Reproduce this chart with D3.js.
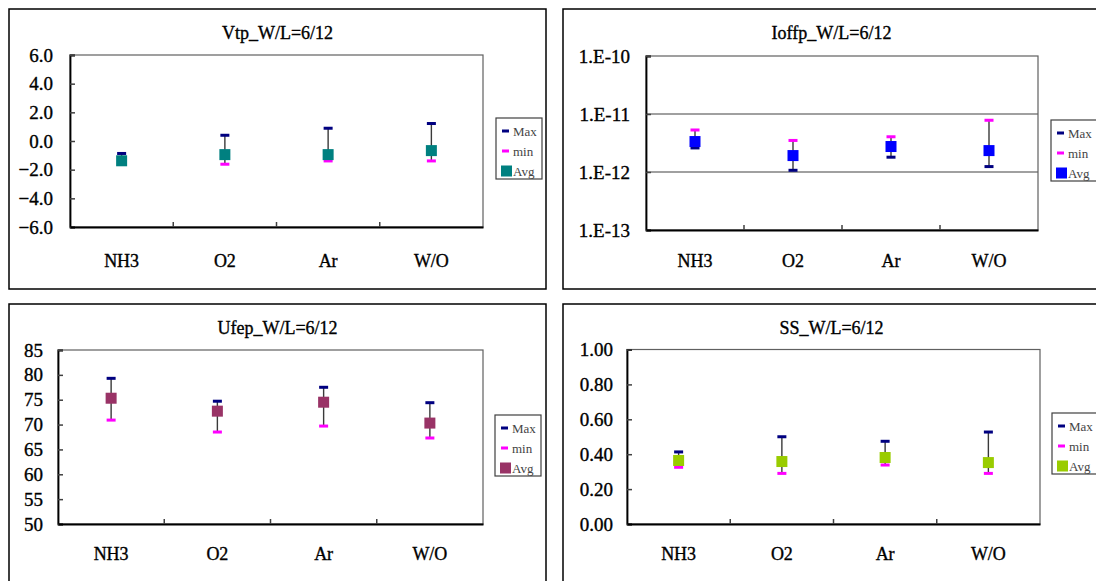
<!DOCTYPE html>
<html><head><meta charset="utf-8">
<script src="https://cdn.jsdelivr.net/npm/d3@7"></script>
<style>
html,body{margin:0;padding:0;background:#fff;}
svg{display:block;}
text{font-family:"Liberation Serif","Times New Roman",serif;fill:#000;}
.heavy{stroke:#000;stroke-width:0.35px;}
</style></head>
<body>
<svg id="chart" width="1096" height="581"></svg>
<script>
// ---- data ----
const categories = ["NH3", "O2", "Ar", "W/O"];
const legendLabels = ["Max", "min", "Avg"];

const vtpMax = [-0.87, 0.40, 0.89, 1.22];
const vtpMin = [-1.55, -1.62, -1.39, -1.39];
const vtpAvg = [-1.38, -0.95, -0.95, -0.67];
const vtpTicks = [-6, -4, -2, 0, 2, 4, 6];

const ioffMax = [2.6e-12, 1.07e-12, 1.80e-12, 1.24e-12];
const ioffMin = [5.3e-12, 3.5e-12, 4.05e-12, 7.8e-12];
const ioffAvg = [3.35e-12, 1.92e-12, 2.75e-12, 2.34e-12];
const ioffTicks = [1e-13, 1e-12, 1e-11, 1e-10];
const ioffTickLabels = ["1.E-13", "1.E-12", "1.E-11", "1.E-10"];

const ufepMax = [79.3, 74.7, 77.5, 74.4];
const ufepMin = [70.9, 68.5, 69.7, 67.3];
const ufepAvg = [75.3, 72.7, 74.5, 70.3];
const ufepTicks = [50, 55, 60, 65, 70, 75, 80, 85];

const ssMax = [0.413, 0.50, 0.474, 0.527];
const ssMin = [0.325, 0.29, 0.338, 0.29];
const ssAvg = [0.364, 0.358, 0.381, 0.352];
const ssTicks = [0, 0.2, 0.4, 0.6, 0.8, 1.0];

const titles = ["Vtp_W/L=6/12", "Ioffp_W/L=6/12", "Ufep_W/L=6/12", "SS_W/L=6/12"];

// ---- layout ----
const panels = [
  {title: titles[0], max: vtpMax, min: vtpMin, avg: vtpAvg, color: "#008080",
   scale: d3.scaleLinear().domain([-6, 6]), ticks: vtpTicks, fmt: d3.format(".1f"),
   box: [9, 9, 537, 280], plot: [70, 483, 55, 227], legend: [496, 118], tickX: 53, catY: 261, titleY: 33},
  {title: titles[1], max: ioffMax, min: ioffMin, avg: ioffAvg, color: "#0000ff",
   scale: d3.scaleLog().domain([1e-13, 1e-10]), ticks: ioffTicks, labels: ioffTickLabels, log: true,
   box: [563, 9, 540, 280], plot: [646, 1038, 56, 230], legend: [1051, 120], tickX: 630, catY: 261, titleY: 33},
  {title: titles[2], max: ufepMax, min: ufepMin, avg: ufepAvg, color: "#993366",
   scale: d3.scaleLinear().domain([50, 85]), ticks: ufepTicks, fmt: d3.format("d"),
   box: [9, 304, 537, 300], plot: [58, 483, 350, 524], legend: [495, 415], tickX: 43, catY: 554, titleY: 328},
  {title: titles[3], max: ssMax, min: ssMin, avg: ssAvg, color: "#99cc00",
   scale: d3.scaleLinear().domain([0, 1]), ticks: ssTicks, fmt: d3.format(".2f"),
   box: [563, 304, 540, 300], plot: [627, 1040, 349.5, 524], legend: [1052, 413], tickX: 613, catY: 554, titleY: 328}
];

const svg = d3.select("#chart");

panels.forEach(p => {
  const g = svg.append("g");
  const [bx, by, bw, bh] = p.box;
  g.append("rect").attr("x", bx).attr("y", by).attr("width", bw).attr("height", bh)
    .attr("fill", "#fff").attr("stroke", "#000").attr("stroke-width", 1.5);

  g.append("text").attr("class", "heavy").attr("x", bx + 268.5).attr("y", p.titleY).attr("text-anchor", "middle")
    .attr("dominant-baseline", "central").style("font-size", "18px").text(p.title);

  const [x0, x1, y0, y1] = p.plot;
  const x = d3.scaleBand().domain(categories).range([x0, x1]);
  const y = p.scale.range([y1, y0]);

  if (p.log) {
    g.selectAll(".grid").data(p.ticks.slice(1, -1)).join("line")
      .attr("x1", x0).attr("x2", x1).attr("y1", d => y(d)).attr("y2", d => y(d))
      .attr("stroke", "#808080").attr("stroke-width", 1.5);
  }

  g.append("rect").attr("x", x0).attr("y", y0).attr("width", x1 - x0).attr("height", y1 - y0)
    .attr("fill", "none").attr("stroke", "#606060").attr("stroke-width", 1.2);

  const yAxis = d3.axisRight(y).tickValues(p.ticks).tickSize(5).tickFormat("");
  const ya = g.append("g").attr("transform", `translate(${x0},0)`).call(yAxis);
  ya.select(".domain").attr("stroke", "#000").attr("stroke-width", 1.8);
  ya.selectAll(".tick line").attr("stroke", "#404040").attr("stroke-width", 1.5);

  g.selectAll(".ylab").data(p.ticks).join("text").attr("class", "heavy")
    .attr("x", p.tickX).attr("y", d => y(d)).attr("text-anchor", "end")
    .attr("dominant-baseline", "central").style("font-size", "19px")
    .text((d, i) => p.labels ? p.labels[i] : p.fmt(d));

  const xa = g.append("g").attr("transform", `translate(0,${y1})`)
    .call(d3.axisBottom(x).tickSize(0).tickFormat(""));
  xa.select(".domain").attr("stroke", "#000").attr("stroke-width", 1.8);
  g.selectAll(".xtick").data(categories.slice(1)).join("line")
    .attr("x1", d => x(d)).attr("x2", d => x(d)).attr("y1", y1).attr("y2", y1 - 5)
    .attr("stroke", "#404040").attr("stroke-width", 1.5);

  g.selectAll(".xlab").data(categories).join("text").attr("class", "heavy")
    .attr("x", d => x(d) + x.bandwidth() / 2).attr("y", p.catY).attr("text-anchor", "middle")
    .attr("dominant-baseline", "central").style("font-size", "18px").text(d => d);

  const cx = i => x(categories[i]) + x.bandwidth() / 2;
  const idx = categories.map((c, i) => i);

  g.selectAll(".hl").data(idx).join("line")
    .attr("x1", cx).attr("x2", cx).attr("y1", i => y(p.max[i])).attr("y2", i => y(p.min[i]))
    .attr("stroke", "#3a3a3a").attr("stroke-width", 1.4);
  g.selectAll(".mx").data(idx).join("rect")
    .attr("x", i => cx(i) - 4.5).attr("y", i => y(p.max[i]) - 1.5).attr("width", 9).attr("height", 3)
    .attr("fill", "#000080");
  g.selectAll(".mn").data(idx).join("rect")
    .attr("x", i => cx(i) - 4.5).attr("y", i => y(p.min[i]) - 1.5).attr("width", 9).attr("height", 3)
    .attr("fill", "#ff00ff");
  g.selectAll(".av").data(idx).join("rect")
    .attr("x", i => cx(i) - 5.5).attr("y", i => y(p.avg[i]) - 5.5).attr("width", 11).attr("height", 11)
    .attr("fill", p.color);

  const [lx, ly] = p.legend;
  const lg = g.append("g").attr("transform", `translate(${lx},${ly})`);
  lg.append("rect").attr("width", 46).attr("height", 61).attr("fill", "#fff")
    .attr("stroke", "#404040").attr("stroke-width", 1.2);
  const legendColors = ["#000080", "#ff00ff", p.color];
  legendLabels.forEach((lab, i) => {
    const yy = 13 + i * 20;
    if (i < 2) {
      lg.append("rect").attr("x", 6).attr("y", yy - 1.5).attr("width", 7).attr("height", 3).attr("fill", legendColors[i]);
    } else {
      lg.append("rect").attr("x", 5).attr("y", yy - 5.5).attr("width", 11).attr("height", 11).attr("fill", legendColors[i]);
    }
    lg.append("text").attr("x", 17).attr("y", yy).attr("dominant-baseline", "central")
      .style("font-size", "13px").style("fill", "#444").text(lab);
  });
});
</script>
</body></html>
